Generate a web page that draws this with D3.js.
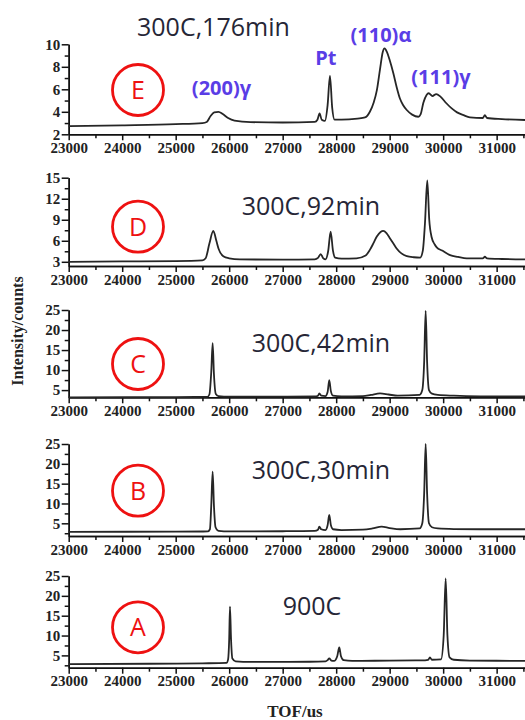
<!DOCTYPE html>
<html>
<head>
<meta charset="utf-8">
<script src="https://cdn.jsdelivr.net/npm/d3@7"></script>
<style>
  body { margin: 0; background: #fff; }
  .tick text { font-family: "Liberation Serif", "Times New Roman", serif; font-weight: bold; font-size: 15px; fill: #222; }
  .axis path, .axis line { stroke: #111; stroke-width: 1.5; }
</style>
</head>
<body>
<script>
///////////////////   Data   /////////////////

var panelLetters = ["E", "D", "C", "B", "A"];
var conditions = ["300C,176min", "300C,92min", "300C,42min", "300C,30min", "900C"];

var xTicks = [23000, 24000, 25000, 26000, 27000, 28000, 29000, 30000, 31000];
var yTicksE = [2, 4, 6, 8, 10],
    yTicksD = [3, 6, 9, 12, 15],
    yTicksABC = [5, 10, 15, 20, 25];

var peakNames = ["(200)γ", "Pt", "(110)α", "(111)γ"];
var peakTof = [25856, 27809, 28837, 29959];
var peakLabelLevel = [5.5, 8.15, 10.2, 6.45];

// [TOF, counts]
var specE = [[23000,2.73],[24000,2.8],[25000,2.9],[25500,3.0],[25580,3.1],[25650,3.6],[25720,3.95],[25800,4.0],[25880,3.8],
  [25980,3.45],[26100,3.22],[26400,3.08],[27000,3.05],[27600,3.1],[27650,3.3],[27690,3.85],[27730,3.3],[27790,3.2],
  [27840,4.6],[27884,7.2],[27925,4.4],[27970,3.3],[28100,3.3],[28400,3.4],[28540,3.5],[28630,4.0],[28700,4.8],
  [28760,5.9],[28820,7.8],[28870,9.3],[28905,9.64],[28950,9.3],[29000,8.6],[29070,7.4],[29130,6.2],[29190,5.2],
  [29250,4.6],[29320,4.16],[29420,3.75],[29535,3.56],[29580,3.8],[29630,4.8],[29690,5.5],[29730,5.65],[29800,5.4],
  [29870,5.58],[29950,5.35],[30060,4.76],[30160,4.3],[30260,3.95],[30380,3.7],[30500,3.5],[30740,3.45],[30780,3.7],
  [30820,3.45],[31100,3.35],[31530,3.27]];

var specD = [[23000,3.0],[24000,3.05],[25000,3.1],[25500,3.2],[25560,3.5],[25630,5.6],[25703,7.4],[25760,6.0],[25800,4.9],
  [25890,3.8],[26000,3.5],[26200,3.34],[27000,3.3],[27600,3.35],[27660,3.55],[27710,4.1],[27760,3.5],[27800,3.35],
  [27850,4.5],[27897,7.3],[27940,4.6],[27980,3.6],[28100,3.45],[28380,3.5],[28550,3.9],[28630,4.7],[28700,5.7],
  [28760,6.6],[28830,7.25],[28880,7.4],[28940,7.1],[29010,6.3],[29070,5.6],[29130,4.9],[29220,4.2],[29320,3.8],
  [29450,3.65],[29570,3.6],[29620,4.6],[29660,8.5],[29703,14.6],[29740,9.0],[29785,6.5],[29840,5.5],[29880,5.05],
  [29980,4.6],[30130,3.95],[30280,3.7],[30440,3.5],[30740,3.5],[30780,3.72],[30820,3.5],[31100,3.4],[31530,3.34]];

var specC = [[23000,3.2],[25000,3.25],[25590,3.3],[25630,3.9],[25665,9.5],[25691,16.7],[25715,9.0],[25750,4.0],[25800,3.5],
  [26000,3.35],[27000,3.35],[27600,3.4],[27660,3.6],[27685,4.17],[27720,3.6],[27800,3.5],[27840,4.5],[27871,7.5],
  [27900,4.8],[27940,3.6],[28100,3.4],[28500,3.5],[28650,3.8],[28820,4.17],[28980,3.9],[29150,3.6],[29560,3.8],
  [29610,5.0],[29645,12],[29673,24.8],[29700,12],[29735,5.0],[29790,4.1],[29900,3.8],[30200,3.6],[30700,3.45],[31530,3.4]];

var specB = [[23000,2.85],[25000,2.9],[25600,2.95],[25640,3.5],[25665,9.5],[25691,18.0],[25715,9.5],[25745,4.0],[25800,3.1],
  [26000,2.95],[27000,3.0],[27600,3.1],[27660,3.4],[27685,4.15],[27720,3.5],[27800,3.3],[27840,4.5],[27871,7.1],
  [27900,4.6],[27940,3.5],[28100,3.3],[28500,3.4],[28680,3.7],[28850,4.15],[29000,3.8],[29200,3.5],[29560,3.7],
  [29610,5.0],[29645,12.5],[29673,25.0],[29700,12.5],[29735,5.0],[29790,4.0],[29900,3.7],[30200,3.55],[30700,3.5],[31530,3.5]];

var specA = [[23000,2.8],[24500,2.9],[25500,3.0],[25950,3.1],[25980,4.0],[26000,9.0],[26015,17.3],[26035,9.0],[26060,4.2],
  [26120,3.5],[26400,3.35],[27500,3.4],[27800,3.5],[27840,3.8],[27871,4.24],[27910,3.7],[27960,3.6],[28020,4.8],
  [28058,7.0],[28090,4.8],[28140,3.8],[28300,3.6],[29000,3.7],[29600,3.75],[29720,3.9],[29753,4.5],[29790,3.9],
  [29960,4.0],[30010,10],[30047,24.4],[30080,10],[30120,4.5],[30200,3.9],[30500,3.7],[31000,3.65],[31530,3.6]];

///////////////////   Layout   /////////////////

var width = 525, height = 720,
    axisLeft = 68.7;

// one entry per panel, top to bottom: pixel band, y domain, label placement
var panels = [
  {spec: specE, ticks: yTicksE,   dom: [2, 10],   top: 44.3,  bottom: 134.3, title: [137, 36],    circle: 90},
  {spec: specD, ticks: yTicksD,   dom: [2.4, 15], top: 177.7, bottom: 266,   title: [241.7, 215], circle: 226.7},
  {spec: specC, ticks: yTicksABC, dom: [3.2, 25], top: 310,   bottom: 397.3, title: [251.7, 352], circle: 364},
  {spec: specB, ticks: yTicksABC, dom: [1.8, 25], top: 444,   bottom: 536,   title: [251.7, 479], circle: 490.7},
  {spec: specA, ticks: yTicksABC, dom: [1.9, 25], top: 576,   bottom: 667.7, title: [282.7, 615], circle: 627.3}
];

var x = d3.scaleLinear().domain([23000, 31530]).range([axisLeft, width]);

///////////////////   Rendering   /////////////////

var svg = d3.select("body").append("svg")
  .attr("width", width)
  .attr("height", height)
  .style("font-family", "'Open Sans', sans-serif");

panels.forEach(function(p, i){
  var y = d3.scaleLinear().domain(p.dom).range([p.bottom, p.top]);
  var step = p.ticks[1] - p.ticks[0];
  var minor = p.ticks.map(function(v){ return v - step / 2; }).filter(function(v){ return v > p.dom[0]; });
  var g = svg.append("g");

  // minor ticks first, then the labelled axes over them
  g.append("g").attr("class", "axis")
    .attr("transform", "translate(" + axisLeft + ",0)")
    .call(d3.axisLeft(y).tickValues(minor).tickSize(4).tickSizeOuter(0).tickFormat(""));
  g.append("g").attr("class", "axis")
    .attr("transform", "translate(" + axisLeft + ",0)")
    .call(d3.axisLeft(y).tickValues(p.ticks).tickSize(7).tickPadding(1.5).tickSizeOuter(0));

  g.append("g").attr("class", "axis")
    .attr("transform", "translate(0," + p.bottom + ")")
    .call(d3.axisBottom(x).tickValues(xTicks.map(function(t){ return t + 500; })).tickSize(4).tickSizeOuter(0).tickFormat(""));
  g.append("g").attr("class", "axis")
    .attr("transform", "translate(0," + p.bottom + ")")
    .call(d3.axisBottom(x).tickValues(xTicks).tickSize(6).tickPadding(2).tickSizeOuter(0).tickFormat(d3.format("d")));

  var line = d3.line()
    .x(function(d){ return x(d[0]); })
    .y(function(d){ return y(d[1]); })
    .curve(d3.curveMonotoneX);

  g.append("path")
    .datum(p.spec)
    .attr("d", line)
    .attr("fill", "none")
    .attr("stroke", "#262626")
    .attr("stroke-width", 1.8)
    .attr("stroke-linejoin", "round");

  // red circled letter
  g.append("circle")
    .attr("cx", 138).attr("cy", p.circle).attr("r", 25.5)
    .attr("fill", "none").attr("stroke", "#ee1111").attr("stroke-width", 2.8);
  g.append("text")
    .attr("x", 138).attr("y", p.circle + 9)
    .attr("text-anchor", "middle")
    .attr("font-size", 25)
    .attr("fill", "#ee1111")
    .text(panelLetters[i]);

  g.append("text")
    .attr("x", p.title[0]).attr("y", p.title[1])
    .attr("font-size", 25)
    .attr("fill", "#262636")
    .text(conditions[i]);

  // phase labels only on the top panel
  if (i == 0) {
    g.selectAll(".peak")
      .data(peakNames)
      .enter().append("text")
      .attr("class", "peak")
      .attr("x", function(d, j){ return x(peakTof[j]); })
      .attr("y", function(d, j){ return y(peakLabelLevel[j]); })
      .attr("text-anchor", "middle")
      .attr("font-size", 20)
      .attr("font-weight", "bold")
      .attr("fill", "#5a3de6")
      .text(function(d){ return d; });
  }
});

// axis titles
svg.append("text")
  .attr("transform", "translate(23,331) rotate(-90)")
  .attr("text-anchor", "middle")
  .style("font-family", "'Liberation Serif', serif")
  .attr("font-weight", "bold")
  .attr("font-size", 16)
  .attr("fill", "#222")
  .text("Intensity/counts");

svg.append("text")
  .attr("x", 295).attr("y", 717)
  .attr("text-anchor", "middle")
  .style("font-family", "'Liberation Serif', serif")
  .attr("font-weight", "bold")
  .attr("font-size", 17)
  .attr("fill", "#222")
  .text("TOF/us");
</script>
</body>
</html>
